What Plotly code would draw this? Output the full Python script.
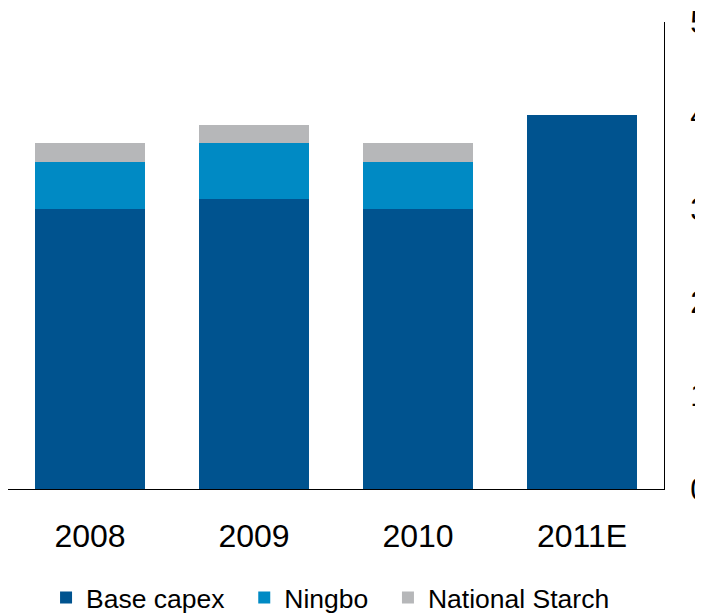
import plotly.graph_objects as go

years = ["2008", "2009", "2010", "2011E"]
base_capex = [3.0, 3.1, 3.0, 4.0]
ningbo = [0.5, 0.6, 0.5, 0.0]
national_starch = [0.2, 0.2, 0.2, 0.0]
y_ticks = [0, 1, 2, 3, 4, 5]

series = [("Base capex", base_capex, "#00538F"),
          ("Ningbo", ningbo, "#008AC4"),
          ("National Starch", national_starch, "#B6B7B9")]

fig = go.Figure()
for name, vals, col in series:
    fig.add_trace(go.Bar(x=years, y=vals, name=name + "\u00a0\u00a0",
                         marker=dict(color=col, line=dict(width=0)), width=0.67))

fig.update_layout(
    barmode="stack",
    width=695, height=605,
    margin=dict(l=0, r=39, t=14, b=124, autoexpand=False),
    paper_bgcolor="white", plot_bgcolor="white",
    font=dict(family="Liberation Sans, Arial, sans-serif", color="black"),
    showlegend=True,
    legend=dict(orientation="h", x=0.058, xanchor="left", y=-0.233, yanchor="middle",
                font=dict(size=26.5), traceorder="normal", itemwidth=30),
    xaxis=dict(showline=True, linecolor="black", linewidth=1, tickfont=dict(size=32),
               ticklabelstandoff=19, showgrid=False, zeroline=False, automargin=False),
    yaxis=dict(side="right", range=[0, 5], tickvals=y_ticks, showline=True, linecolor="black",
               linewidth=1, showgrid=False, zeroline=False, tickfont=dict(size=31),
               ticklabelstandoff=19, automargin=False, ticklabeloverflow="allow"),
)
fig.write_html("out.html")
